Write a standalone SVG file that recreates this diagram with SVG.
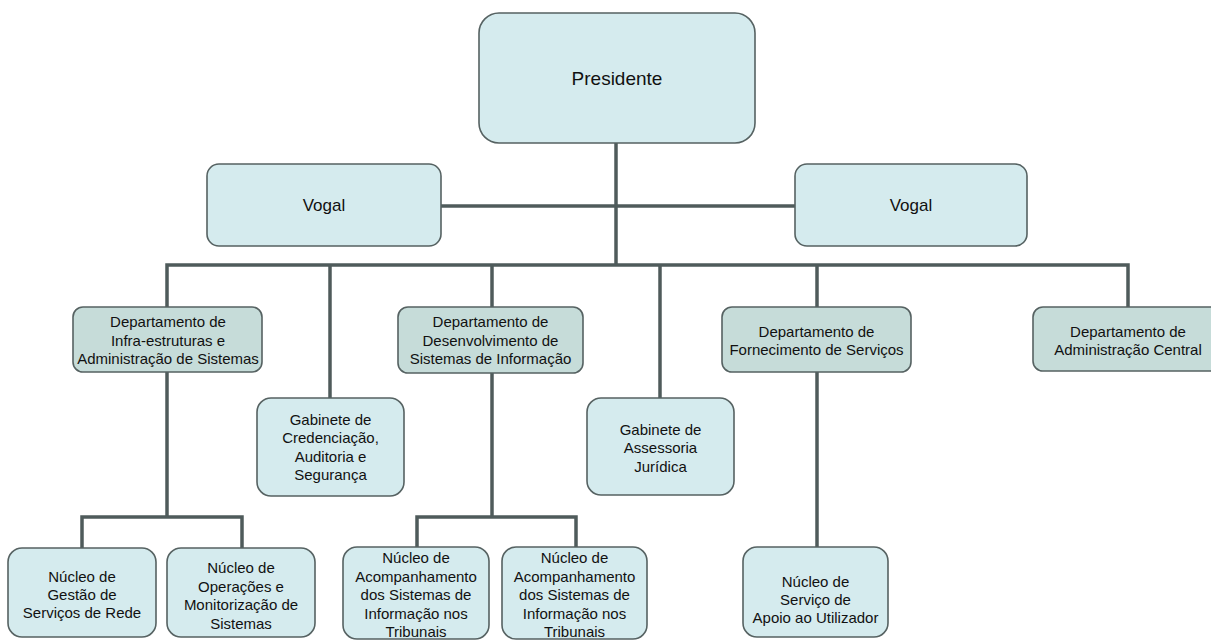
<svg xmlns="http://www.w3.org/2000/svg" width="1211" height="640" viewBox="0 0 1211 640">
<style>
.box{fill:#d5ebee;stroke:#566262;stroke-width:1.6}
.dept{fill:#c6dcd9;stroke:#566262;stroke-width:1.6}
.conn{fill:none;stroke:#4f5b5b;stroke-width:3.5}
text{font-family:"Liberation Sans",Arial,sans-serif;font-size:15px;fill:#111;text-anchor:middle}
.big{font-size:19px}
.mid{font-size:17px}
</style>
<rect width="1211" height="640" fill="#ffffff"/>
<g id="connectors">
<path class="conn" d="M616,143 V265"/>
<path class="conn" d="M441,206 H795"/>
<path class="conn" d="M167,307 V265 H1128 V307"/>
<path class="conn" d="M330,265 V398"/>
<path class="conn" d="M492,265 V307"/>
<path class="conn" d="M660,265 V398"/>
<path class="conn" d="M817,265 V307"/>
<path class="conn" d="M167,372 V517"/>
<path class="conn" d="M82,548 V517 H242 V548"/>
<path class="conn" d="M492,373 V517"/>
<path class="conn" d="M417,547 V517 H576 V547"/>
<path class="conn" d="M817,372 V547"/>
</g>
<g id="presidente">
<rect class="box" x="479" y="13" width="276" height="130" rx="20"/>
<text class="big" x="617" y="85">Presidente</text>
</g>
<g id="vogal1">
<rect class="box" x="207" y="164" width="234" height="82" rx="12"/>
<text class="mid" x="324" y="211">Vogal</text>
</g>
<g id="vogal2">
<rect class="box" x="795" y="164" width="232" height="82" rx="12"/>
<text class="mid" x="911" y="211">Vogal</text>
</g>
<g id="dept1">
<rect class="dept" x="73" y="307" width="189" height="65" rx="10"/>
<text x="168" y="327">Departamento de</text>
<text x="168" y="345.5">Infra-estruturas e</text>
<text x="168" y="364">Administração de Sistemas</text>
</g>
<g id="dept2">
<rect class="dept" x="398" y="307" width="185" height="66" rx="10"/>
<text x="490.5" y="327">Departamento de</text>
<text x="490.5" y="345.5">Desenvolvimento de</text>
<text x="490.5" y="364">Sistemas de Informação</text>
</g>
<g id="dept3">
<rect class="dept" x="722" y="307" width="189" height="65" rx="10"/>
<text x="816.5" y="337">Departamento de</text>
<text x="816.5" y="355">Fornecimento de Serviços</text>
</g>
<g id="dept4">
<rect class="dept" x="1033" y="307" width="190" height="64" rx="10"/>
<text x="1128" y="337">Departamento de</text>
<text x="1128" y="355">Administração Central</text>
</g>
<g id="gabinete1">
<rect class="box" x="257" y="398" width="147" height="98" rx="14"/>
<text x="330.5" y="424.5">Gabinete de</text>
<text x="330.5" y="443">Credenciação,</text>
<text x="330.5" y="461.5">Auditoria e</text>
<text x="330.5" y="480">Segurança</text>
</g>
<g id="gabinete2">
<rect class="box" x="587" y="398" width="147" height="97" rx="14"/>
<text x="660.5" y="434.5">Gabinete de</text>
<text x="660.5" y="453">Assessoria</text>
<text x="660.5" y="471.5">Jurídica</text>
</g>
<g id="nucleo1">
<rect class="box" x="8" y="548" width="148" height="89" rx="14"/>
<text x="82" y="582">Núcleo de</text>
<text x="82" y="600">Gestão de</text>
<text x="82" y="618">Serviços de Rede</text>
</g>
<g id="nucleo2">
<rect class="box" x="167" y="548" width="148" height="89" rx="14"/>
<text x="241" y="573">Núcleo de</text>
<text x="241" y="591.5">Operações e</text>
<text x="241" y="610">Monitorização de</text>
<text x="241" y="628.5">Sistemas</text>
</g>
<g id="nucleo3">
<rect class="box" x="343" y="547" width="146" height="92" rx="14"/>
<text x="416" y="563">Núcleo de</text>
<text x="416" y="581.5">Acompanhamento</text>
<text x="416" y="600">dos Sistemas de</text>
<text x="416" y="618.5">Informação nos</text>
<text x="416" y="637">Tribunais</text>
</g>
<g id="nucleo4">
<rect class="box" x="502" y="547" width="145" height="92" rx="14"/>
<text x="574.5" y="563">Núcleo de</text>
<text x="574.5" y="581.5">Acompanhamento</text>
<text x="574.5" y="600">dos Sistemas de</text>
<text x="574.5" y="618.5">Informação nos</text>
<text x="574.5" y="637">Tribunais</text>
</g>
<g id="nucleo5">
<rect class="box" x="743" y="547" width="145" height="90" rx="14"/>
<text x="815.5" y="587">Núcleo de</text>
<text x="815.5" y="605">Serviço de</text>
<text x="815.5" y="623">Apoio ao Utilizador</text>
</g>
</svg>
